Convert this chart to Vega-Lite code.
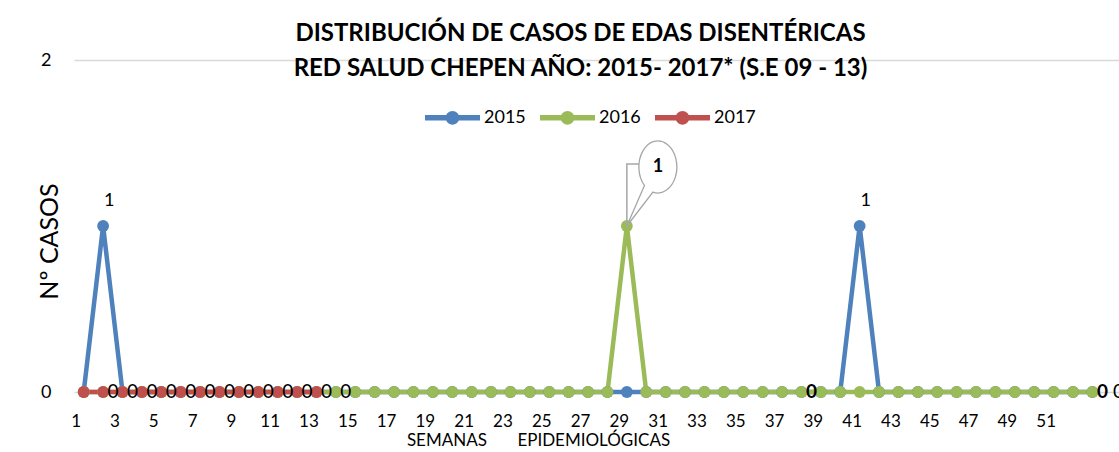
{
  "$schema": "https://vega.github.io/schema/vega-lite/v6.json",
  "width": 1045,
  "height": 332,
  "autosize": {"type": "none"},
  "padding": {"left": 74, "top": 60, "right": 0, "bottom": 60},
  "background": "#FFFFFF",
  "config": {
    "font": "Lato",
    "view": {"stroke": null},
    "axis": {"labelColor": "#000000", "titleColor": "#000000"}
  },
  "title": {
    "text": ["DISTRIBUCIÓN DE CASOS DE EDAS DISENTÉRICAS", "RED SALUD CHEPEN AÑO: 2015- 2017* (S.E 09 - 13)"],
    "anchor": "middle",
    "font": "Lato",
    "fontSize": 24,
    "fontWeight": "bold",
    "color": "#000000",
    "lineHeight": 35,
    "offset": -30,
    "dx": -16
  },
  "data": {
    "values": [
      {"anio": "2015", "semana": 1, "casos": 0},
      {"anio": "2015", "semana": 2, "casos": 1},
      {"anio": "2015", "semana": 3, "casos": 0},
      {"anio": "2015", "semana": 4, "casos": 0},
      {"anio": "2015", "semana": 5, "casos": 0},
      {"anio": "2015", "semana": 6, "casos": 0},
      {"anio": "2015", "semana": 7, "casos": 0},
      {"anio": "2015", "semana": 8, "casos": 0},
      {"anio": "2015", "semana": 9, "casos": 0},
      {"anio": "2015", "semana": 10, "casos": 0},
      {"anio": "2015", "semana": 11, "casos": 0},
      {"anio": "2015", "semana": 12, "casos": 0},
      {"anio": "2015", "semana": 13, "casos": 0},
      {"anio": "2015", "semana": 14, "casos": 0},
      {"anio": "2015", "semana": 15, "casos": 0},
      {"anio": "2015", "semana": 16, "casos": 0},
      {"anio": "2015", "semana": 17, "casos": 0},
      {"anio": "2015", "semana": 18, "casos": 0},
      {"anio": "2015", "semana": 19, "casos": 0},
      {"anio": "2015", "semana": 20, "casos": 0},
      {"anio": "2015", "semana": 21, "casos": 0},
      {"anio": "2015", "semana": 22, "casos": 0},
      {"anio": "2015", "semana": 23, "casos": 0},
      {"anio": "2015", "semana": 24, "casos": 0},
      {"anio": "2015", "semana": 25, "casos": 0},
      {"anio": "2015", "semana": 26, "casos": 0},
      {"anio": "2015", "semana": 27, "casos": 0},
      {"anio": "2015", "semana": 28, "casos": 0},
      {"anio": "2015", "semana": 29, "casos": 0},
      {"anio": "2015", "semana": 30, "casos": 0},
      {"anio": "2015", "semana": 31, "casos": 0},
      {"anio": "2015", "semana": 32, "casos": 0},
      {"anio": "2015", "semana": 33, "casos": 0},
      {"anio": "2015", "semana": 34, "casos": 0},
      {"anio": "2015", "semana": 35, "casos": 0},
      {"anio": "2015", "semana": 36, "casos": 0},
      {"anio": "2015", "semana": 37, "casos": 0},
      {"anio": "2015", "semana": 38, "casos": 0},
      {"anio": "2015", "semana": 39, "casos": 0},
      {"anio": "2015", "semana": 40, "casos": 0},
      {"anio": "2015", "semana": 41, "casos": 1},
      {"anio": "2015", "semana": 42, "casos": 0},
      {"anio": "2015", "semana": 43, "casos": 0},
      {"anio": "2015", "semana": 44, "casos": 0},
      {"anio": "2015", "semana": 45, "casos": 0},
      {"anio": "2015", "semana": 46, "casos": 0},
      {"anio": "2015", "semana": 47, "casos": 0},
      {"anio": "2015", "semana": 48, "casos": 0},
      {"anio": "2015", "semana": 49, "casos": 0},
      {"anio": "2015", "semana": 50, "casos": 0},
      {"anio": "2015", "semana": 51, "casos": 0},
      {"anio": "2015", "semana": 52, "casos": 0},
      {"anio": "2015", "semana": 53, "casos": 0},
      {"anio": "2016", "semana": 1, "casos": 0},
      {"anio": "2016", "semana": 2, "casos": 0},
      {"anio": "2016", "semana": 3, "casos": 0},
      {"anio": "2016", "semana": 4, "casos": 0},
      {"anio": "2016", "semana": 5, "casos": 0},
      {"anio": "2016", "semana": 6, "casos": 0},
      {"anio": "2016", "semana": 7, "casos": 0},
      {"anio": "2016", "semana": 8, "casos": 0},
      {"anio": "2016", "semana": 9, "casos": 0},
      {"anio": "2016", "semana": 10, "casos": 0},
      {"anio": "2016", "semana": 11, "casos": 0},
      {"anio": "2016", "semana": 12, "casos": 0},
      {"anio": "2016", "semana": 13, "casos": 0},
      {"anio": "2016", "semana": 14, "casos": 0},
      {"anio": "2016", "semana": 15, "casos": 0},
      {"anio": "2016", "semana": 16, "casos": 0},
      {"anio": "2016", "semana": 17, "casos": 0},
      {"anio": "2016", "semana": 18, "casos": 0},
      {"anio": "2016", "semana": 19, "casos": 0},
      {"anio": "2016", "semana": 20, "casos": 0},
      {"anio": "2016", "semana": 21, "casos": 0},
      {"anio": "2016", "semana": 22, "casos": 0},
      {"anio": "2016", "semana": 23, "casos": 0},
      {"anio": "2016", "semana": 24, "casos": 0},
      {"anio": "2016", "semana": 25, "casos": 0},
      {"anio": "2016", "semana": 26, "casos": 0},
      {"anio": "2016", "semana": 27, "casos": 0},
      {"anio": "2016", "semana": 28, "casos": 0},
      {"anio": "2016", "semana": 29, "casos": 1},
      {"anio": "2016", "semana": 30, "casos": 0},
      {"anio": "2016", "semana": 31, "casos": 0},
      {"anio": "2016", "semana": 32, "casos": 0},
      {"anio": "2016", "semana": 33, "casos": 0},
      {"anio": "2016", "semana": 34, "casos": 0},
      {"anio": "2016", "semana": 35, "casos": 0},
      {"anio": "2016", "semana": 36, "casos": 0},
      {"anio": "2016", "semana": 37, "casos": 0},
      {"anio": "2016", "semana": 38, "casos": 0},
      {"anio": "2016", "semana": 39, "casos": 0},
      {"anio": "2016", "semana": 40, "casos": 0},
      {"anio": "2016", "semana": 41, "casos": 0},
      {"anio": "2016", "semana": 42, "casos": 0},
      {"anio": "2016", "semana": 43, "casos": 0},
      {"anio": "2016", "semana": 44, "casos": 0},
      {"anio": "2016", "semana": 45, "casos": 0},
      {"anio": "2016", "semana": 46, "casos": 0},
      {"anio": "2016", "semana": 47, "casos": 0},
      {"anio": "2016", "semana": 48, "casos": 0},
      {"anio": "2016", "semana": 49, "casos": 0},
      {"anio": "2016", "semana": 50, "casos": 0},
      {"anio": "2016", "semana": 51, "casos": 0},
      {"anio": "2016", "semana": 52, "casos": 0},
      {"anio": "2016", "semana": 53, "casos": 0},
      {"anio": "2017", "semana": 1, "casos": 0},
      {"anio": "2017", "semana": 2, "casos": 0},
      {"anio": "2017", "semana": 3, "casos": 0},
      {"anio": "2017", "semana": 4, "casos": 0},
      {"anio": "2017", "semana": 5, "casos": 0},
      {"anio": "2017", "semana": 6, "casos": 0},
      {"anio": "2017", "semana": 7, "casos": 0},
      {"anio": "2017", "semana": 8, "casos": 0},
      {"anio": "2017", "semana": 9, "casos": 0},
      {"anio": "2017", "semana": 10, "casos": 0},
      {"anio": "2017", "semana": 11, "casos": 0},
      {"anio": "2017", "semana": 12, "casos": 0},
      {"anio": "2017", "semana": 13, "casos": 0}
    ]
  },
  "encoding": {
    "x": {
      "field": "semana",
      "type": "quantitative",
      "scale": {"domain": [0.5, 54.37], "nice": false, "zero": false},
      "axis": {
        "values": [1, 3, 5, 7, 9, 11, 13, 15, 17, 19, 21, 23, 25, 27, 29, 31, 33, 35, 37, 39, 41, 43, 45, 47, 49, 51],
        "grid": false,
        "ticks": false,
        "domain": false,
        "labelFontSize": 17,
        "labelPadding": 21,
        "labelOffset": -8,
        "labelFlush": false,
        "labelOverlap": false,
        "title": "SEMANAS\u00a0\u00a0\u00a0\u00a0\u00a0\u00a0\u00a0EPIDEMIOLÓGICAS",
        "titleFontSize": 17,
        "titleFontWeight": "normal",
        "titleX": 464,
        "titleY": 48,
        "titleAlign": "center",
        "titleBaseline": "middle"
      }
    },
    "y": {
      "field": "casos",
      "type": "quantitative",
      "scale": {"domain": [0, 2], "nice": false},
      "axis": {
        "values": [0, 2],
        "grid": true,
        "gridColor": "#D9D9D9",
        "gridWidth": 1.3,
        "ticks": false,
        "domain": false,
        "labelFontSize": 18,
        "labelPadding": 23,
        "title": "Nº CASOS",
        "titleFontSize": 25,
        "titleFontWeight": "normal",
        "titleAngle": -90,
        "titleX": -25,
        "titleY": 181,
        "titleAlign": "center",
        "titleBaseline": "middle"
      }
    }
  },
  "layer": [
    {
      "mark": {"type": "line", "strokeWidth": 4.5},
      "encoding": {
        "color": {
          "field": "anio",
          "type": "nominal",
          "scale": {"domain": ["2015", "2016", "2017"], "range": ["#4F81BD", "#9BBB59", "#C0504D"]}
        }
      }
    },
    {
      "mark": {"type": "point", "filled": true, "size": 140, "opacity": 1},
      "encoding": {
        "color": {
          "field": "anio",
          "type": "nominal",
          "scale": {"domain": ["2015", "2016", "2017"], "range": ["#4F81BD", "#9BBB59", "#C0504D"]},
          "legend": {
            "title": null,
            "orient": "none",
            "direction": "horizontal",
            "legendX": 351,
            "legendY": 30,
            "padding": 0,
            "symbolType": "M -1 -0.1 L 1 -0.1 L 1 0.1 L -1 0.1 Z M 0.25 0 A 0.25 0.25 0 1 1 -0.25 0 A 0.25 0.25 0 1 1 0.25 0 Z",
            "symbolSize": 3025,
            "symbolStrokeWidth": 0,
            "symbolOpacity": 1,
            "labelFontSize": 18,
            "labelColor": "#000000",
            "labelOffset": 4,
            "columnPadding": 14
          }
        }
      }
    },
    {
      "transform": [{"filter": "(datum.anio == '2017' && datum.semana >= 2) || (datum.anio == '2015' && datum.semana == 14)"}],
      "mark": {"type": "text", "dx": 10, "baseline": "middle", "align": "center", "fontSize": 19, "color": "#000000"},
      "encoding": {"text": {"field": "casos", "type": "quantitative"}}
    },
    {
      "transform": [{"filter": "datum.anio == '2015' && datum.casos == 1"}],
      "mark": {"type": "text", "dx": 6, "dy": -25, "baseline": "middle", "align": "center", "fontSize": 18, "color": "#000000"},
      "encoding": {"text": {"field": "casos", "type": "quantitative"}}
    },
    {
      "transform": [{"filter": "datum.anio == '2015' && datum.semana == 53"}],
      "mark": {"type": "text", "dx": 26, "baseline": "middle", "align": "center", "fontSize": 19, "color": "#000000"},
      "encoding": {"text": {"field": "casos", "type": "quantitative"}}
    },
    {
      "transform": [{"filter": "datum.anio == '2016' && (datum.semana == 38 || datum.semana == 53)"}],
      "mark": {"type": "text", "dx": 10, "baseline": "middle", "align": "center", "fontSize": 19, "fontWeight": "bold", "color": "#000000"},
      "encoding": {"text": {"field": "casos", "type": "quantitative"}}
    },
    {
      "transform": [{"filter": "datum.anio == '2016' && datum.casos == 1"}],
      "mark": {"type": "point", "shape": "M 0 0 L 0 -62 L 13 -62", "size": 4, "filled": false, "stroke": "#A6A6A6", "strokeWidth": 1.5, "opacity": 1},
      "encoding": {}
    },
    {
      "transform": [{"filter": "datum.anio == '2016' && datum.casos == 1"}],
      "mark": {"type": "point", "shape": "M 17.6 -40.6 L 0 0 L 26.1 -33.9 A 19 26 0 1 0 17.6 -40.6 Z", "size": 4, "filled": true, "fill": "#FFFFFF", "stroke": "#A6A6A6", "strokeWidth": 1.3, "opacity": 1},
      "encoding": {}
    },
    {
      "transform": [{"filter": "datum.anio == '2016' && datum.casos == 1"}],
      "mark": {"type": "text", "dx": 31, "dy": -59, "baseline": "middle", "align": "center", "fontSize": 18, "fontWeight": "bold", "color": "#000000"},
      "encoding": {"text": {"field": "casos", "type": "quantitative"}}
    }
  ]
}
